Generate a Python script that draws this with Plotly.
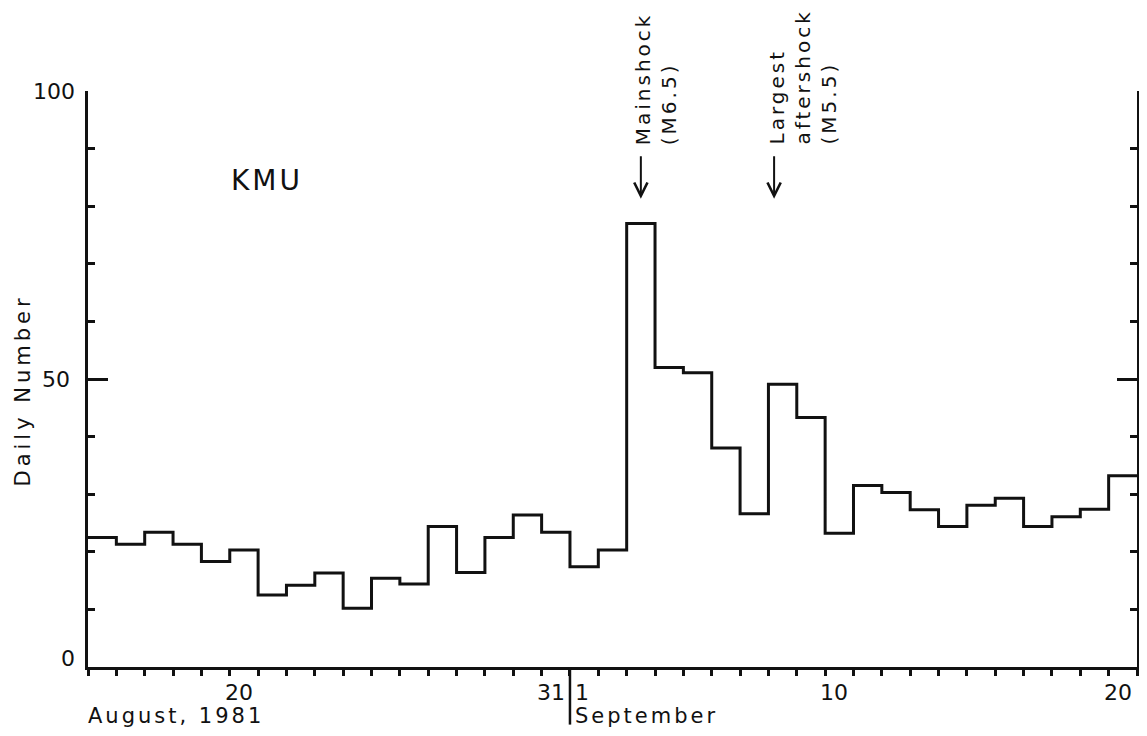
import plotly.graph_objects as go

# ---- data -------------------------------------------------------------
# one bin per day, 15 Aug 1981 (index 0) .. 20 Sep 1981 (index 36)
day_labels = ["Aug 15", "Aug 16", "Aug 17", "Aug 18", "Aug 19", "Aug 20", "Aug 21",
              "Aug 22", "Aug 23", "Aug 24", "Aug 25", "Aug 26", "Aug 27", "Aug 28",
              "Aug 29", "Aug 30", "Aug 31", "Sep 1", "Sep 2", "Sep 3", "Sep 4",
              "Sep 5", "Sep 6", "Sep 7", "Sep 8", "Sep 9", "Sep 10", "Sep 11",
              "Sep 12", "Sep 13", "Sep 14", "Sep 15", "Sep 16", "Sep 17", "Sep 18",
              "Sep 19", "Sep 20"]
daily_number = [22.5, 21.3, 23.4, 21.3, 18.3, 20.3, 12.5, 14.2, 16.3, 10.2,
                15.4, 14.4, 24.4, 16.4, 22.5, 26.4, 23.4, 17.4, 20.3, 77.0,
                52.0, 51.1, 38.0, 26.6, 49.1, 43.3, 23.2, 31.5, 30.3, 27.3,
                24.4, 28.1, 29.3, 24.4, 26.1, 27.4, 33.2]
# x tick labels (placed at the end of the labelled day)
xtick_pos = [6, 17, 27, 37]
xtick_text = ["20", "31", "10", "20"]
ytick_vals = [0, 50, 100]
ytick_text = ["0", "50", "100"]
events = [("Mainshock<br>(M6.5)", 19.5), ("Largest<br>aftershock<br>(M5.5)", 24.2)]

FONT = "DejaVu Sans"
INK = "#111111"


def spaced(t, px=3):
    return '<span style="letter-spacing:%dpx">%s</span>' % (px, t)


edges = list(range(len(daily_number) + 1))
yvals = daily_number + [daily_number[-1]]

fig = go.Figure()
fig.add_trace(go.Scatter(x=edges, y=yvals, mode="lines", line_shape="hv",
                         line=dict(color=INK, width=3), hoverinfo="skip",
                         showlegend=False))
# empty trace so the right-hand axis is drawn
fig.add_trace(go.Scatter(x=[None], y=[None], yaxis="y2", mode="lines",
                         hoverinfo="skip", showlegend=False))

yax_common = dict(range=[0, 100], showgrid=False, zeroline=False,
                  showline=True, linecolor=INK, linewidth=3,
                  tickmode="array", tickvals=ytick_vals, showticklabels=False,
                  ticks="inside", ticklen=20, tickwidth=2.5, tickcolor=INK,
                  minor=dict(dtick=10, tick0=0, ticks="inside", ticklen=7,
                             tickwidth=2.5, tickcolor=INK, showgrid=False))

# the page body has an 8px margin, so the figure is laid out 8px smaller
fig.update_layout(
    width=1139, height=720,
    margin=dict(l=80, r=10, t=83, b=61),
    paper_bgcolor="white", plot_bgcolor="white",
    font=dict(family=FONT, color=INK, size=22),
    xaxis=dict(range=[0, len(daily_number)], showgrid=False, zeroline=False,
               showline=True, linecolor=INK, linewidth=3,
               tickmode="array", tickvals=xtick_pos, ticktext=[""] * 4,
               showticklabels=False,
               ticks="outside", ticklen=26, tickwidth=2.5, tickcolor=INK,
               minor=dict(dtick=1, tick0=0, ticks="outside", ticklen=6,
                          tickwidth=2.5, tickcolor=INK, showgrid=False)),
    yaxis=dict(**yax_common),
    yaxis2=dict(**yax_common, overlaying="y", side="right", anchor="x"),
)

# separator between August and September
fig.add_shape(type="line", xref="x", yref="paper", x0=17, x1=17, y0=0, y1=-0.1,
              line=dict(color=INK, width=2.5))

ann = []
# y tick labels
for v, txt, dx, dy in zip(ytick_vals, ytick_text, [-11, -16, -11], [9, 0, 0]):
    ann.append(dict(x=0, y=v, xref="paper", yref="y", text=txt, xanchor="right",
                    yanchor="middle", xshift=dx, yshift=dy, showarrow=False,
                    font=dict(size=22)))
# x tick labels
for pos, txt in zip(xtick_pos, xtick_text):
    ann.append(dict(x=pos, y=0, xref="x", yref="paper", text=txt,
                    xanchor="right", yanchor="middle", xshift=-3, yshift=-25,
                    showarrow=False, font=dict(size=22)))
ann.append(dict(x=17, y=0, xref="x", yref="paper", text="1", xanchor="left",
                yanchor="middle", xshift=3, yshift=-25, showarrow=False,
                font=dict(size=22)))
ann.append(dict(x=0, y=0, xref="x", yref="paper", text=spaced("August, 1981", 3),
                xanchor="left", yanchor="middle", xshift=-2, yshift=-49,
                showarrow=False, font=dict(size=21)))
ann.append(dict(x=17, y=0, xref="x", yref="paper", text=spaced("September", 3),
                xanchor="left", yanchor="middle", xshift=3, yshift=-49,
                showarrow=False, font=dict(size=21)))
# y axis title
ann.append(dict(x=0, y=48, xref="paper", yref="y", text=spaced("Daily Number", 4),
                textangle=-90, xanchor="center", yanchor="middle", xshift=-65,
                showarrow=False, font=dict(size=21)))
# station name
ann.append(dict(x=6.3, y=84.4, xref="x", yref="y", text=spaced("KMU", 3),
                xanchor="center", yanchor="middle", showarrow=False,
                font=dict(size=28)))
# event labels and arrows
for txt, xe in events:
    ann.append(dict(x=xe, y=90.3, xref="x", yref="y", text=spaced(txt, 3),
                    textangle=-90, align="left", xanchor="left", yanchor="bottom",
                    xshift=-11, showarrow=False, font=dict(size=20)))
    ann.append(dict(x=xe, y=81.3, xref="x", yref="y", text="", showarrow=True,
                    ax=0, ay=-44, arrowhead=5, arrowsize=1.3, arrowwidth=2,
                    arrowcolor=INK))
fig.update_layout(annotations=ann)

fig.write_html("out.html")
